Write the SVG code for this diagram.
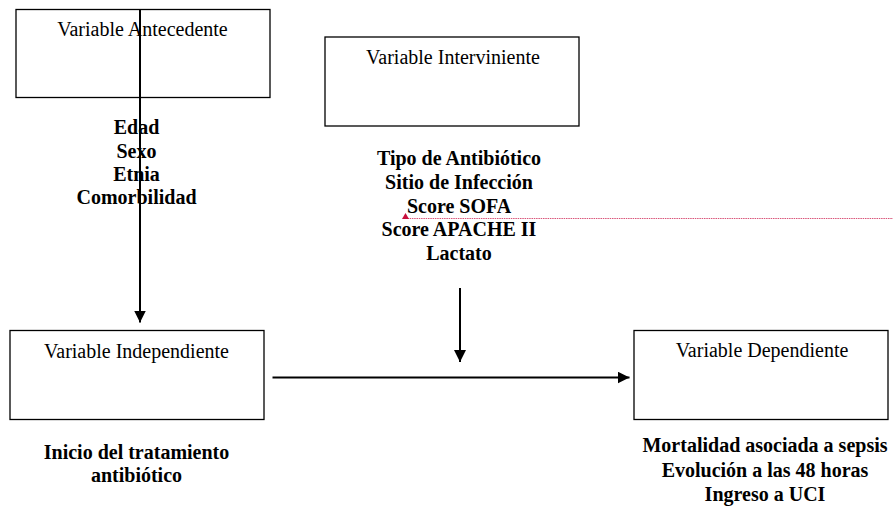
<svg xmlns="http://www.w3.org/2000/svg" width="893" height="508" viewBox="0 0 893 508">
<style>
.box{fill:#fff;stroke:#000;stroke-width:1.3}
.t{font-family:"Liberation Serif","Times New Roman",serif;font-size:20px;fill:#000;text-anchor:middle}
.b{font-family:"Liberation Serif","Times New Roman",serif;font-size:20px;font-weight:bold;fill:#000;text-anchor:middle}
.c{stroke:#000;stroke-width:2;fill:none}
</style>
<defs>
<marker id="ah" viewBox="0 0 12 12" refX="12" refY="6" markerWidth="12" markerHeight="12" markerUnits="userSpaceOnUse" orient="auto">
<path d="M0,0 L12,6 L0,12 Z" fill="#000"/>
</marker>
</defs>
<rect width="893" height="508" fill="#fff"/>
<g id="antecedente">
<rect class="box" x="16" y="9.5" width="254" height="88"/>
<text class="t" x="142.5" y="36">Variable Antecedente</text>
</g>
<g id="antecedente-vars">
<text class="b" x="136.5" y="134">Edad</text>
<text class="b" x="136.5" y="157.5">Sexo</text>
<text class="b" x="136.5" y="181">Etnia</text>
<text class="b" x="136.5" y="204">Comorbilidad</text>
</g>
<g id="interviniente">
<rect class="box" x="325" y="37" width="254" height="89"/>
<text class="t" x="453" y="64">Variable Interviniente</text>
</g>
<g id="interviniente-vars">
<text class="b" x="459" y="165">Tipo de Antibiótico</text>
<text class="b" x="459" y="189">Sitio de Infección</text>
<text class="b" x="459" y="212.5">Score SOFA</text>
<text class="b" x="459" y="236">Score APACHE II</text>
<text class="b" x="459" y="260">Lactato</text>
</g>
<g id="independiente">
<rect class="box" x="10" y="330.5" width="254" height="89"/>
<text class="t" x="136.5" y="357.5">Variable Independiente</text>
</g>
<g id="independiente-vars">
<text class="b" x="136.5" y="459">Inicio del tratamiento</text>
<text class="b" x="136.5" y="482">antibiótico</text>
</g>
<g id="dependiente">
<rect class="box" x="634" y="330.5" width="254" height="89"/>
<text class="t" x="762" y="356.5">Variable Dependiente</text>
</g>
<g id="dependiente-vars">
<text class="b" x="765" y="452">Mortalidad asociada a sepsis</text>
<text class="b" x="765" y="476.5">Evolución a las 48 horas</text>
<text class="b" x="765" y="501">Ingreso a UCI</text>
</g>
<g id="connectors">
<line class="c" x1="140" y1="9.5" x2="140" y2="322.5" marker-end="url(#ah)"/>
<line class="c" x1="460" y1="288" x2="460" y2="362" marker-end="url(#ah)"/>
<line class="c" x1="272.5" y1="377.5" x2="629.5" y2="377.5" marker-end="url(#ah)"/>
</g>
<g id="comment-mark">
<line x1="405" y1="218.5" x2="893" y2="218.5" stroke="#d9557a" stroke-width="1" stroke-dasharray="1.5 0.8"/>
<polygon points="402,219 405.5,213 409,219" fill="#c8103c"/>
</g>
</svg>
